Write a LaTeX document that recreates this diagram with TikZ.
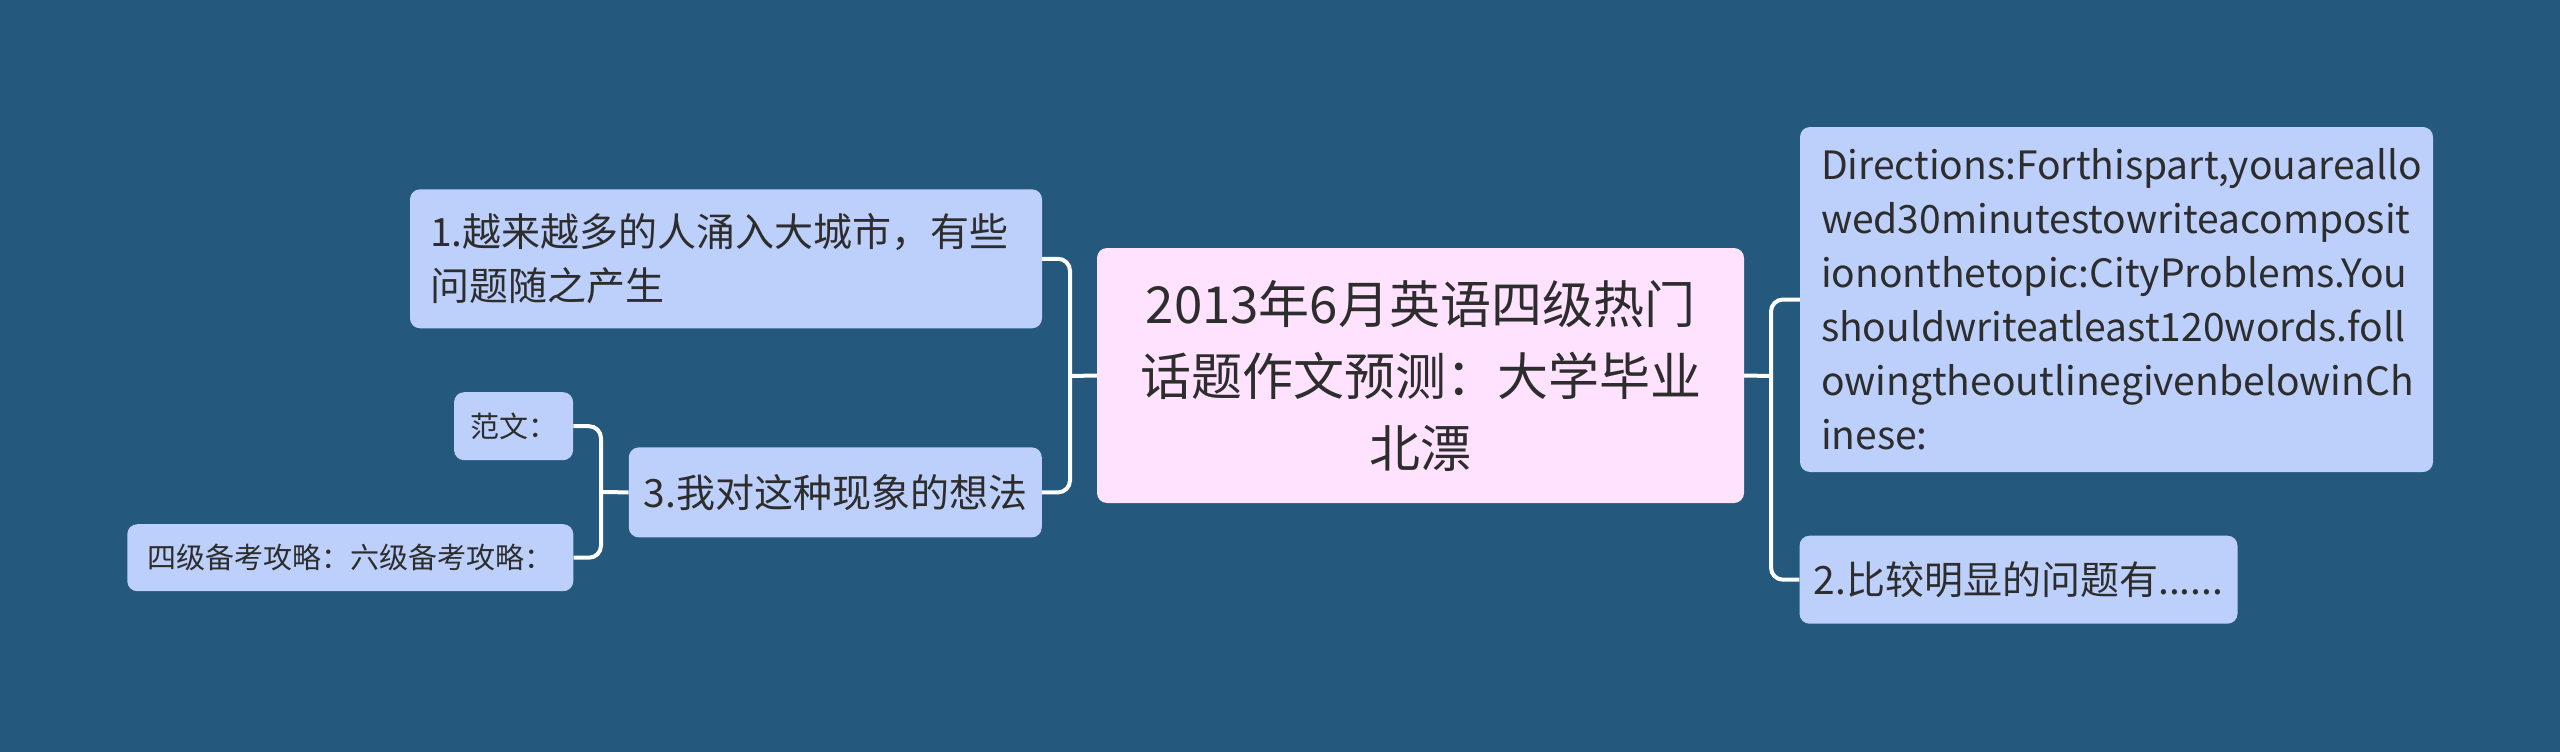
\documentclass[tikz,border=0pt]{standalone}
\usepackage{fontspec}
\setmainfont{Noto Sans CJK SC}
\definecolor{bgblue}{RGB}{36,88,124}
\definecolor{nodeblue}{RGB}{189,208,251}
\definecolor{rootpink}{RGB}{254,226,254}
\definecolor{txtgray}{RGB}{45,45,45}

\begin{document}
\begin{tikzpicture}[x=1pt,y=-1pt,
	topic/.style={fill=nodeblue, rounded corners=10pt, text=txtgray, inner sep=0pt, font=\fontsize{39}{54}\selectfont},
	small/.style={topic, font=\fontsize{29}{40}\selectfont},
	link/.style={draw=white, line width=4pt, rounded corners=12pt}]
	%background
	\fill[bgblue] (0,0) rectangle (2560,752);
	\useasboundingbox (0,0) rectangle (2560,752);
	
	%root
	\node[fill=rootpink, rounded corners=10pt, text=txtgray, inner sep=0pt, minimum width=647, minimum height=255, align=center, font=\fontsize{51}{72}\selectfont] (root) at (1420.5,375.5) {2013年6月英语四级热门\\话题作文预测：大学毕业\\北漂};
	
	%right side
	\node[topic, text width=591, inner xsep=21, minimum height=345, align=left] (dir) at (2116.5,299.5) {Directions:Forthispart,youareallo\\wed30minutestowriteacomposit\\iononthetopic:CityProblems.You\\shouldwriteatleast120words.foll\\owingtheoutlinegivenbelowinCh\\inese:};
	\node[topic, minimum width=438, minimum height=88] (p2) at (2018.5,579.7) {2.比较明显的问题有......};
	
	%left side
	\node[topic, text width=592, inner xsep=20, minimum height=139, align=left] (p1) at (726,258.8) {1.越来越多的人涌入大城市，有些\\问题随之产生};
	\node[topic, minimum width=413, minimum height=90] (p3) at (835.3,492.4) {3.我对这种现象的想法};
	\node[small, minimum width=119, minimum height=68] (fw) at (513.6,426.2) {范文：};
	\node[small, minimum width=446, minimum height=67] (gl) at (350.3,557.7) {四级备考攻略：六级备考攻略：};
	
	%links
	\coordinate (lbus) at (1070,376);
	\coordinate (rbus) at (1771,376);
	\coordinate (sbus) at (601,492);
	\draw[link] (root.west) -- (lbus);
	\draw[link] (p1.east) -| (lbus) |- (p3.east);
	\draw[link] (root.east) -- (rbus);
	\draw[link] (dir.west) -| (rbus) |- (p2.west);
	\draw[link] (p3.west) -- (sbus);
	\draw[link] (fw.east) -| (sbus) |- (gl.east);
\end{tikzpicture}
\end{document}
